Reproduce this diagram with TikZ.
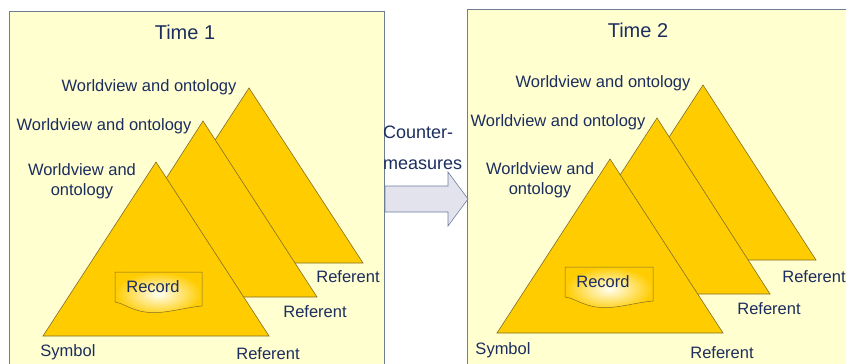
\documentclass[tikz,border=0pt]{standalone}
\usepackage{fontspec}
\setmainfont{Liberation Sans}
\usepackage{tikz}
\usetikzlibrary{positioning}
\definecolor{panelfill}{RGB}{255,255,208}
\definecolor{paneldraw}{RGB}{110,125,145}
\definecolor{trigold}{RGB}{255,204,0}
\definecolor{triedge}{RGB}{130,110,40}
\definecolor{txtblue}{RGB}{28,45,95}
\definecolor{arrowfill}{RGB}{226,227,236}
\definecolor{arrowdraw}{RGB}{110,125,160}

\begin{document}
\begin{tikzpicture}[
  x=1pt,y=-1pt,
  panel/.style={draw=paneldraw,fill=panelfill,line width=0.8pt},
  tri/.style={draw=triedge,fill=trigold,line width=0.6pt,line join=miter},
  rec/.style={draw=triedge,line width=0.5pt,inner color=white!95!yellow,outer color=trigold},
  moveArrow/.style={draw=arrowdraw,fill=arrowfill,line width=0.6pt},
  lbl/.style={text=txtblue,font=\fontsize{16.5}{20}\selectfont,inner sep=0pt},
  ttl/.style={text=txtblue,font=\fontsize{20}{24}\selectfont,inner sep=0pt},
  measureTxt/.style={text=txtblue,font=\fontsize{18}{31}\selectfont,inner sep=0pt,align=left}
]
\useasboundingbox (0,0) rectangle (846,364);
\clip (0,0) rectangle (846,364);
\fill[white] (0,0) rectangle (846,364);
\draw[panel] (9,11) rectangle (384,380);
\draw[panel] (467,9) rectangle (860,380);
\draw[tri] (249,88) -- (135,263) -- (363,263) -- cycle;
\draw[tri] (203,121) -- (90,297) -- (317,297) -- cycle;
\draw[tri] (156,162) -- (43,336) -- (269,336) -- cycle;
\draw[tri] (703,85) -- (589,260) -- (816,260) -- cycle;
\draw[tri] (657,118) -- (543,294) -- (770,294) -- cycle;
\draw[tri] (610,159) -- (497,333) -- (723,333) -- cycle;
\shade[rec] (115,272) -- (202,272) -- (202,306) .. controls (180,308) and (160,316) .. (140,311) .. controls (128,308) and (122,303) .. (115,302) -- cycle;
\shade[rec] (565,267) -- (653,267) -- (653,301) .. controls (631,303) and (611,311) .. (591,306) .. controls (579,303) and (573,298) .. (565,297) -- cycle;
\draw[moveArrow] (385,186) -- (448,186) -- (448,172) -- (468,199) -- (448,226) -- (448,212) -- (385,212) -- cycle;
\node[ttl] (t1)   at (185,32)  {Time 1};
\node[ttl] (t2)   at (638,30)  {Time 2};
\node[measureTxt,anchor=west] (cmTxt) at (383,148) {Counter-\\measures};
\node[lbl] (wa1)  at (149,87)  {Worldview and ontology};
\node[lbl] (wb1)  at (104,126) {Worldview and ontology};
\node[lbl,align=center] (wc1) at (82,181) {Worldview and\\ontology};
\node[lbl] (rec1) at (153,287) {Record};
\node[lbl] (ra1)  at (348,277) {Referent};
\node[lbl] (rb1)  at (315,312) {Referent};
\node[lbl] (rc1)  at (268,354) {Referent};
\node[lbl] (sy1)  at (68,352)  {Symbol};
\node[lbl] (wa2)  at (603,83)  {Worldview and ontology};
\node[lbl] (wb2)  at (558,122) {Worldview and ontology};
\node[lbl,align=center] (wc2) at (540,180) {Worldview and\\ontology};
\node[lbl] (rec2) at (603,282) {Record};
\node[lbl] (ra2)  at (814,277) {Referent};
\node[lbl] (rb2)  at (769,309) {Referent};
\node[lbl] (rc2)  at (722,353) {Referent};
\node[lbl] (sy2)  at (503,350) {Symbol};
\end{tikzpicture}
\end{document}
